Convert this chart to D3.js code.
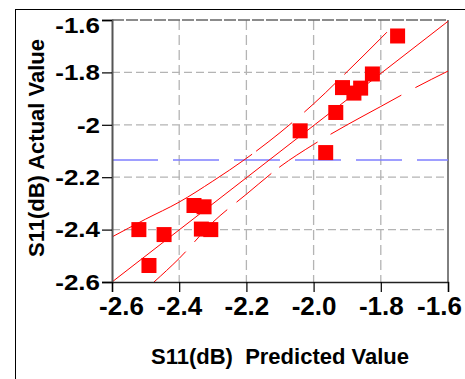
<!DOCTYPE html>
<html>
<head>
<meta charset="utf-8">
<script src="https://cdn.jsdelivr.net/npm/d3@7"></script>
<style>
  body { margin: 0; background: #fff; }
  svg { display: block; font-family: "Liberation Sans", Arial, sans-serif; font-weight: bold; }
</style>
</head>
<body>
<svg id="chart" width="465" height="379"></svg>
<script>
// observed points
const predicted = [-2.52, -2.49, -2.445, -2.356, -2.326, -2.334, -2.306, -2.04, -1.964, -1.934, -1.914, -1.88, -1.86, -1.825, -1.75];
const actual    = [-2.40, -2.537, -2.419, -2.308, -2.313, -2.398, -2.40, -2.023, -2.106, -1.953, -1.858, -1.879, -1.86, -1.806, -1.661];

// fitted line and confidence bands
const fitX = [-2.6, -1.6];
const fitY = [-2.6, -1.605];
const upperX = [-2.6, -2.5, -2.4, -2.3, -2.2, -2.1, -2.0, -1.9, -1.8, -1.75];
const upperY = [-2.428, -2.36, -2.295, -2.215, -2.128, -2.03, -1.92, -1.797, -1.67, -1.605];
const lowerX = [-2.475, -2.4, -2.3, -2.2, -2.1, -2.0, -1.9, -1.8, -1.7, -1.6];
const lowerY = [-2.6, -2.51, -2.372, -2.265, -2.16, -2.075, -2.0, -1.93, -1.86, -1.795];

const meanActual = -2.134;

const xTicks = [-2.6, -2.4, -2.2, -2.0, -1.8, -1.6];
const xTickLabels = ["-2.6", "-2.4", "-2.2", "-2.0", "-1.8", "-1.6"];
const yTicks = [-1.6, -1.8, -2.0, -2.2, -2.4, -2.6];
const yTickLabels = ["-1.6", "-1.8", "-2", "-2.2", "-2.4", "-2.6"];

const margin = { top: 20, right: 17, bottom: 97, left: 112 };
const width = 465 - margin.left - margin.right;
const height = 379 - margin.top - margin.bottom;

const svg = d3.select('#chart');

// outer frame (runs off the right and bottom)
svg.append('rect')
  .attr('x', 15.5).attr('y', 9.5)
  .attr('width', 470).attr('height', 390)
  .attr('fill', 'none').attr('stroke', '#000').attr('stroke-width', 1);

const g = svg.append('g')
  .attr('transform', `translate(${margin.left},${margin.top})`);

const x = d3.scaleLinear().domain([-2.6, -1.6]).range([0, width]);
const y = d3.scaleLinear().domain([-2.6, -1.6]).range([height, 0]);

g.append('clipPath').attr('id', 'clip')
  .append('rect').attr('width', width).attr('height', height);

// grid
g.selectAll('.vgrid')
  .data(xTicks.slice(1, -1))
  .enter().append('line')
  .attr('x1', d => x(d)).attr('x2', d => x(d))
  .attr('y1', 0).attr('y2', height)
  .attr('stroke', '#b4b4b4').attr('stroke-width', 1.3)
  .attr('stroke-dasharray', '10,5');

g.selectAll('.hgrid')
  .data(yTicks.slice(1, -1))
  .enter().append('line')
  .attr('x1', 0).attr('x2', width)
  .attr('y1', d => y(d)).attr('y2', d => y(d))
  .attr('stroke', '#b4b4b4').attr('stroke-width', 1.3)
  .attr('stroke-dasharray', '8,4');

// top edge
g.append('line')
  .attr('x1', 0).attr('x2', width)
  .attr('y1', y(-1.6)).attr('y2', y(-1.6))
  .attr('stroke', '#666').attr('stroke-width', 1.3)
  .attr('stroke-dasharray', '12,2');

// right edge
g.append('line')
  .attr('x1', width).attr('x2', width)
  .attr('y1', 0).attr('y2', height)
  .attr('stroke', '#000').attr('stroke-width', 1);

const plot = g.append('g').attr('clip-path', 'url(#clip)');

// mean of actual values
plot.append('line')
  .attr('x1', 0).attr('x2', width)
  .attr('y1', y(meanActual)).attr('y2', y(meanActual))
  .attr('stroke', '#7f7fff').attr('stroke-width', 1.5)
  .attr('stroke-dasharray', '46,15');

const line = d3.line()
  .x(d => x(d[0]))
  .y(d => y(d[1]))
  .curve(d3.curveMonotoneX);

plot.append('path')
  .attr('d', line(fitX.map((v, i) => [v, fitY[i]])))
  .attr('fill', 'none').attr('stroke', '#ff0000').attr('stroke-width', 1);

plot.append('path')
  .attr('d', line(upperX.map((v, i) => [v, upperY[i]])))
  .attr('fill', 'none').attr('stroke', '#ff0000').attr('stroke-width', 1)
  .attr('stroke-dasharray', '163,5,46,16,46,9,60');

plot.append('path')
  .attr('d', line(lowerX.map((v, i) => [v, lowerY[i]])))
  .attr('fill', 'none').attr('stroke', '#ff0000').attr('stroke-width', 1)
  .attr('stroke-dasharray', '44,13,46,12,45,10,46,15,81,16,200');

// points
const s = 15;
g.selectAll('.pt')
  .data(predicted.map((v, i) => [v, actual[i]]))
  .enter().append('rect')
  .attr('x', d => x(d[0]) - s / 2)
  .attr('y', d => y(d[1]) - s / 2)
  .attr('width', s).attr('height', s)
  .attr('fill', '#ff0000');

// axes
const yAxis = g.append('g')
  .call(d3.axisLeft(y).tickValues(yTicks).tickSize(10).tickPadding(2)
    .tickFormat((d, i) => yTickLabels[i]));
yAxis.select('.domain').attr('stroke', '#555').attr('stroke-width', 2);
yAxis.selectAll('.tick line').attr('stroke', '#000').attr('stroke-width', 1.2);
yAxis.selectAll('.tick text')
  .attr('font-size', 26).attr('font-family', '"Liberation Sans", Arial, sans-serif')
  .attr('font-weight', 'bold').attr('fill', '#000')
  .attr('transform', (d, i) => `translate(0,${i === 0 ? 5 : 0}) scale(1,0.88)`);

const xAxis = g.append('g')
  .attr('transform', `translate(0,${height})`)
  .call(d3.axisBottom(x).tickValues(xTicks).tickSize(10).tickPadding(5)
    .tickFormat((d, i) => xTickLabels[i]));
xAxis.select('.domain').attr('stroke', '#222').attr('stroke-width', 1.5);
xAxis.selectAll('.tick line').attr('stroke', '#000').attr('stroke-width', 1.2);
xAxis.selectAll('.tick text')
  .attr('font-size', 26).attr('font-family', '"Liberation Sans", Arial, sans-serif')
  .attr('font-weight', 'bold').attr('fill', '#000')
  .attr('dx', (d, i) => i === 0 ? 9 : (i === xTicks.length - 1 ? -9 : 0));

// titles
svg.append('text')
  .attr('transform', 'translate(44,148) rotate(-90)')
  .attr('text-anchor', 'middle')
  .attr('font-size', 22)
  .text('S11(dB) Actual Value');

svg.append('text')
  .attr('x', 280).attr('y', 364)
  .attr('text-anchor', 'middle')
  .attr('font-size', 22)
  .attr('xml:space', 'preserve')
  .style('white-space', 'pre')
  .text('S11(dB)  Predicted Value');
</script>
</body>
</html>
